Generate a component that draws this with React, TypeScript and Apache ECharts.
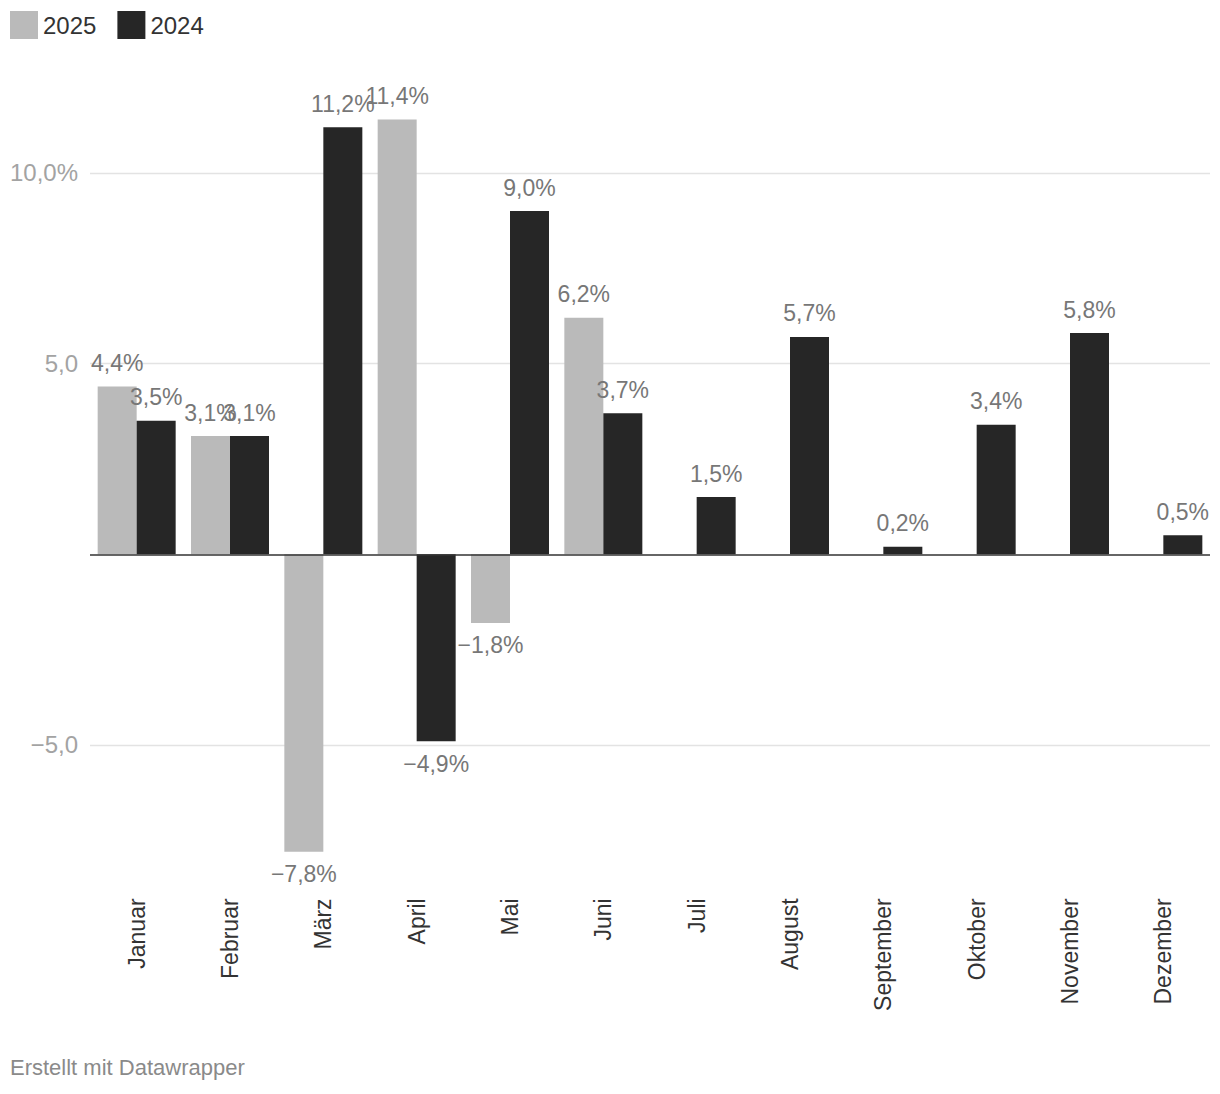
import React, { useEffect, useRef } from "react";
import * as echarts from "echarts";

const months = [
  "Januar", "Februar", "März", "April", "Mai", "Juni",
  "Juli", "August", "September", "Oktober", "November", "Dezember",
];
const values2025: (number | null)[] = [4.4, 3.1, -7.8, 11.4, -1.8, 6.2, null, null, null, null, null, null];
const values2024: (number | null)[] = [3.5, 3.1, 11.2, -4.9, 9.0, 3.7, 1.5, 5.7, 0.2, 3.4, 5.8, 0.5];
const seriesNames = ["2025", "2024"];
const seriesColors = ["#bababa", "#262626"];
const yTicks = [10, 5, -5];
const yTickLabels = ["10,0%", "5,0", "−5,0"];
const footerText = "Erstellt mit Datawrapper";

const FONT = "'Liberation Sans', Arial, Helvetica, sans-serif";

function fmt(v: number): string {
  const s = Math.abs(v).toFixed(1).replace(".", ",") + "%";
  return v < 0 ? "−" + s : s;
}

function toData(vals: (number | null)[]) {
  return vals.map((v) =>
    v == null
      ? "-"
      : {
          value: v,
          label: {
            position: v >= 0 ? "top" : "bottom",
            distance: v >= 0 ? 12 : 11,
          },
        }
  );
}

export default function App() {
  const ref = useRef<HTMLDivElement>(null);
  useEffect(() => {
    if (!ref.current) return;
    const chart = echarts.init(ref.current, null, { renderer: "svg" });
    const barLabel = {
      show: true,
      fontFamily: FONT,
      fontSize: 23,
      color: "#777777",
      formatter: (p: any) => fmt(p.value),
    };
    chart.setOption({
      animation: false,
      backgroundColor: "#ffffff",
      textStyle: { fontFamily: FONT },
      legend: {
        data: seriesNames,
        left: 10,
        top: 11,
        padding: 0,
        itemWidth: 28,
        itemHeight: 28,
        itemGap: 21,
        itemTextGap: 6,
        icon: "rect",
        selectedMode: false,
        textStyle: { fontFamily: FONT, fontSize: 24, color: "#333333" },
      },
      grid: { left: 90, right: 10, top: 96.7, bottom: 215.6, containLabel: false },
      xAxis: {
        type: "category",
        data: months,
        position: "bottom",
        axisLine: { show: false, onZero: false },
        axisTick: { show: false },
        splitLine: { show: false },
        axisLabel: {
          rotate: 90,
          margin: 20,
          interval: 0,
          fontFamily: FONT,
          fontSize: 23,
          color: "#333333",
        },
      },
      yAxis: {
        type: "value",
        min: -8.5,
        max: 12,
        show: false,
        splitLine: { show: false },
      },
      graphic: [
        {
          type: "text",
          left: 10,
          top: 1056,
          style: {
            text: footerText,
            fontFamily: FONT,
            fontSize: 22,
            fill: "#8a8a8a",
          },
        },
      ],
      series: [
        {
          name: "gridlines",
          type: "line",
          data: [],
          z: 1,
          silent: true,
          markLine: {
            z: 1,
            silent: true,
            symbol: ["none", "none"],
            lineStyle: { color: "#e3e3e3", width: 1.3, type: "solid" },
            label: {
              show: true,
              position: "start",
              distance: 12,
              formatter: "{b}",
              fontFamily: FONT,
              fontSize: 24,
              color: "#a3a3a3",
            },
            data: yTicks.map((t, i) => ({ yAxis: t, name: yTickLabels[i] })),
          },
        },
        {
          name: seriesNames[0],
          type: "bar",
          data: toData(values2025),
          barWidth: 39,
          barGap: "0%",
          itemStyle: { color: seriesColors[0] },
          label: barLabel,
          z: 2,
        },
        {
          name: seriesNames[1],
          type: "bar",
          data: toData(values2024),
          barWidth: 39,
          barGap: "0%",
          itemStyle: { color: seriesColors[1] },
          label: barLabel,
          z: 2,
        },
        {
          name: "zeroline",
          type: "line",
          data: [],
          z: 3,
          silent: true,
          markLine: {
            z: 6,
            silent: true,
            symbol: ["none", "none"],
            lineStyle: { color: "#333333", width: 1.5, type: "solid" },
            label: { show: false },
            data: [{ yAxis: 0 }],
          },
        },
      ],
    });
    return () => chart.dispose();
  }, []);
  return (
    <div
      ref={ref}
      style={{ position: "absolute", left: 0, top: 0, width: 1220, height: 1094 }}
    />
  );
}
